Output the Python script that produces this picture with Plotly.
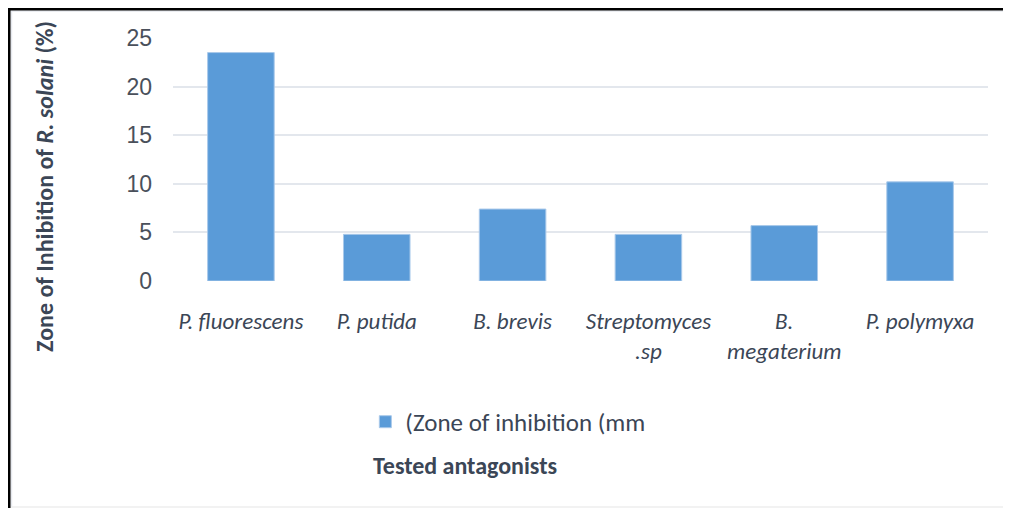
import plotly.graph_objects as go

categories = ["P. fluorescens", "P. putida", "B. brevis", "Streptomyces<br>.sp", "B.<br>megaterium", "P. polymyxa"]
values = [23.5, 4.8, 7.4, 4.8, 5.7, 10.2]
series_name = "(Zone of inhibition (mm"
y_ticks = [0, 5, 10, 15, 20, 25]

label_font = "Carlito, Liberation Sans Narrow, Open Sans, sans-serif"
text_color = "#3b4656"

fig = go.Figure()
fig.add_trace(go.Bar(
    x=categories, y=values, name=series_name,
    width=0.49,
    marker=dict(color="#5a9bd8", line=dict(color="#a9c9ea", width=1)),
    showlegend=True,
))

# page is drawn with an 8px body margin, so the figure is 1003x500
fig.update_layout(
    width=1003, height=500,
    margin=dict(l=165, r=23, t=30, b=227),
    paper_bgcolor="white", plot_bgcolor="white",
    showlegend=True,
    legend=dict(
        orientation="h", x=0.236, y=-0.58, xanchor="left", yanchor="middle",
        font=dict(family=label_font, size=25, color=text_color),
        bgcolor="rgba(0,0,0,0)",
    ),
    xaxis=dict(
        type="category",
        tickfont=dict(family=label_font, size=23, color=text_color, style="italic"),
        showgrid=False, showline=False, ticks="",
        ticklabelstandoff=24,
    ),
    yaxis=dict(
        range=[0, 25], tickvals=y_ticks,
        tickfont=dict(family="Liberation Sans, Arial, sans-serif", size=23, color="#4a505b"),
        showgrid=True, gridcolor="#e3e7ed", gridwidth=1.5,
        zeroline=False, showline=False, ticks="",
        ticklabelstandoff=20,
    ),
    annotations=[
        dict(
            text="Zone of Inhibition of <i>R. solani</i> (%)",
            xref="paper", yref="paper", x=-0.157, y=0.387,
            xanchor="center", yanchor="middle", textangle=-90, showarrow=False,
            font=dict(family=label_font, size=24, color=text_color, weight="bold"),
        ),
        dict(
            text="<b>Tested antagonists</b>",
            xref="paper", yref="paper", x=0.358, y=-0.761,
            xanchor="center", yanchor="middle", showarrow=False,
            font=dict(family=label_font, size=24, color=text_color),
        ),
    ],
    shapes=[
        dict(type="line", xref="paper", yref="paper", x0=-0.2, x1=1.03, y0=1.111, y1=1.111,
             line=dict(color="#e6e9ee", width=1.5)),
        dict(type="line", xref="paper", yref="paper", x0=-0.1982, x1=-0.1982, y0=1.12, y1=-0.93,
             line=dict(color="#e6e9ee", width=1.5)),
        dict(type="line", xref="paper", yref="paper", x0=-0.2, x1=1.03, y0=-0.930, y1=-0.930,
             line=dict(color="#eeeeee", width=1.5)),
        dict(type="line", xref="paper", yref="paper", x0=-0.21, x1=1.03, y0=1.1193, y1=1.1193,
             line=dict(color="black", width=3)),
        dict(type="line", xref="paper", yref="paper", x0=-0.2012, x1=-0.2012, y0=1.13, y1=-0.94,
             line=dict(color="black", width=3)),
    ],
)

fig.write_html("out.html")
